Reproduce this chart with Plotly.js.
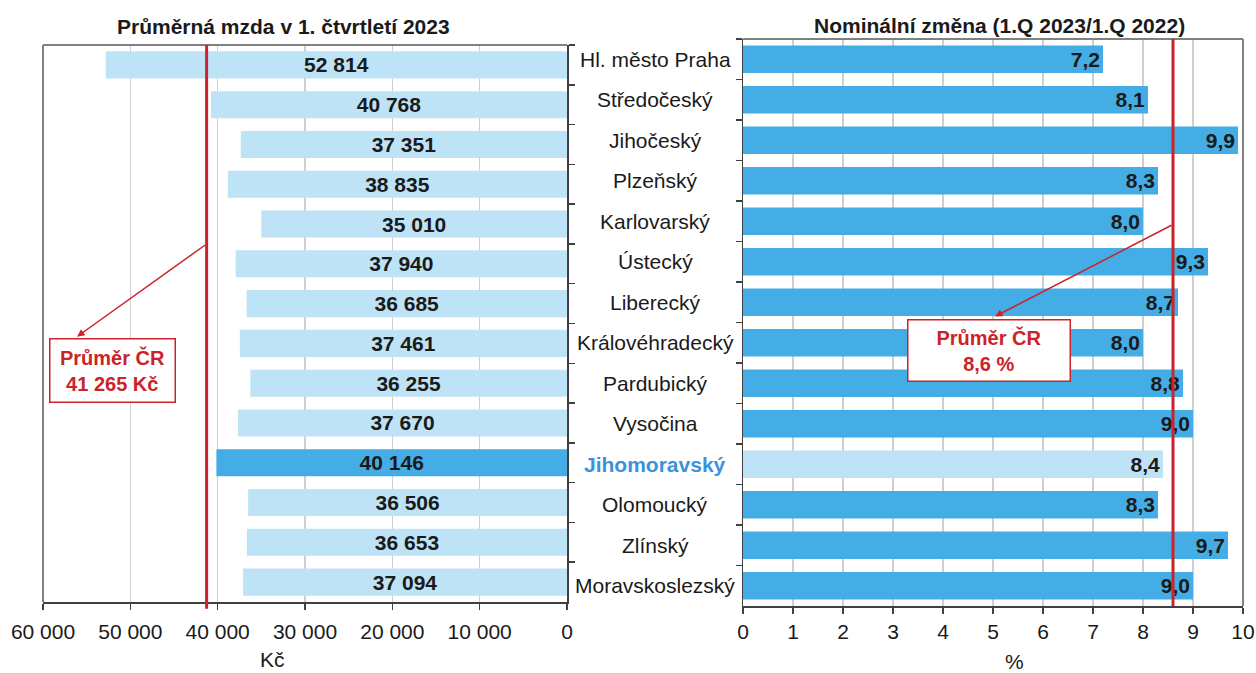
<!DOCTYPE html>
<html>
<head>
<meta charset="utf-8">
<script src="https://cdn.plot.ly/plotly-3.0.1.min.js"></script>
<style>
html,body{margin:0;padding:0;background:#fff;}
#chart{width:1256px;height:673px;}
</style>
</head>
<body>
<div id="chart"></div>
<script>
// ---- data ----
const categories = ['Hl. město Praha','Středočeský','Jihočeský','Plzeňský','Karlovarský','Ústecký','Liberecký','Královéhradecký','Pardubický','Vysočina','Jihomoravský','Olomoucký','Zlínský','Moravskoslezský'];
const wages = [52814,40768,37351,38835,35010,37940,36685,37461,36255,37670,40146,36506,36653,37094];
const changes = [7.2,8.1,9.9,8.3,8.0,9.3,8.7,8.0,8.8,9.0,8.4,8.3,9.7,9.0];
const avgWage = 41265;
const avgChange = 8.6;
const highlight = 'Jihomoravský';
const leftTitle = 'Průměrná mzda v 1. čtvrtletí 2023';
const rightTitle = 'Nominální změna (1.Q 2023/1.Q 2022)';
const leftAxisTitle = 'Kč';
const rightAxisTitle = '%';
const avgLabel = 'Průměr ČR';

// ---- style ----
const FONT = '"Liberation Sans", Arial, sans-serif';
const LIGHT = '#BEE3F6';
const DARK = '#45ADE5';
const RED = '#CC2229';
const TXT = '#1a1a1a';
const GRID = '#CFCFCF';
const BORDER = '#808080';
const AXIS = '#404040';

function fmtThousands(v){ return String(v).replace(/\B(?=(\d{3})+(?!\d))/g,' '); }
function fmtDec(v){ return v.toFixed(1).replace('.',','); }

const leftColors = categories.map(c => c === highlight ? DARK : LIGHT);
const rightColors = categories.map(c => c === highlight ? LIGHT : DARK);

const traces = [
  {
    type:'bar', orientation:'h', x:wages, y:categories, xaxis:'x', yaxis:'y',
    marker:{color:leftColors, line:{width:0}},
    text:wages.map(fmtThousands), textposition:'inside', insidetextanchor:'middle',
    constraintext:'none', cliponaxis:false,
    textfont:{family:FONT, size:21, color:TXT, weight:'bold'},
    hoverinfo:'skip', showlegend:false
  },
  {
    type:'bar', orientation:'h', x:changes, y:categories, xaxis:'x2', yaxis:'y2',
    marker:{color:rightColors, line:{width:0}},
    text:changes.map(fmtDec), textposition:'inside', insidetextanchor:'end',
    constraintext:'none', cliponaxis:false,
    textfont:{family:FONT, size:21, color:TXT, weight:'bold'},
    hoverinfo:'skip', showlegend:false
  }
];

const W = 1256, H = 673;
const px = x => x / W;
const py = y => (H - y) / H;

const tickFont = {family:FONT, size:21, color:TXT};

const layout = {
  width:W, height:H, autosize:false,
  margin:{l:0,r:0,t:0,b:0,pad:0},
  paper_bgcolor:'#fff', plot_bgcolor:'#fff',
  separators:', ',
  bargap:0.32,
  font:{family:FONT, size:21, color:TXT},
  xaxis:{
    domain:[px(43), px(567)], range:[60000,0], dtick:10000, tickformat:',d',
    showgrid:true, gridcolor:GRID, gridwidth:1.5, zeroline:false,
    showline:true, linecolor:AXIS, linewidth:1.5,
    ticks:'outside', ticklen:6, tickwidth:1.5, tickcolor:AXIS,
    tickfont:tickFont, ticklabelstandoff:4, ticklabeloverflow:'allow', anchor:'y', fixedrange:true
  },
  yaxis:{
    domain:[py(602), py(45)], type:'category', autorange:'reversed',
    side:'right', showticklabels:false, showgrid:false, zeroline:false,
    showline:true, linecolor:AXIS, linewidth:1.5,
    ticks:'outside', tickson:'boundaries', ticklen:6, tickwidth:1.5, tickcolor:AXIS,
    anchor:'x', fixedrange:true
  },
  xaxis2:{
    domain:[px(743), px(1243)], range:[0,10], dtick:1,
    showgrid:true, gridcolor:GRID, gridwidth:1.5, zeroline:false,
    showline:true, linecolor:AXIS, linewidth:1.5,
    ticks:'outside', ticklen:6, tickwidth:1.5, tickcolor:AXIS,
    tickfont:tickFont, ticklabelstandoff:0, ticklabeloverflow:'allow', anchor:'y2', fixedrange:true
  },
  yaxis2:{
    domain:[py(606), py(39)], type:'category', autorange:'reversed',
    side:'left', showticklabels:false, showgrid:false, zeroline:false,
    showline:true, linecolor:AXIS, linewidth:1.5,
    ticks:'outside', tickson:'boundaries', ticklen:6, tickwidth:1.5, tickcolor:AXIS,
    anchor:'x2', fixedrange:true
  },
  shapes:[
    {type:'line', xref:'x domain', yref:'y domain', x0:0, x1:1, y0:1, y1:1, line:{color:BORDER, width:2}},
    {type:'line', xref:'x domain', yref:'y domain', x0:0, x1:0, y0:0, y1:1, line:{color:BORDER, width:2}},
    {type:'line', xref:'x2 domain', yref:'y2 domain', x0:0, x1:1, y0:1, y1:1, line:{color:BORDER, width:2}},
    {type:'line', xref:'x2 domain', yref:'y2 domain', x0:1, x1:1, y0:0, y1:1, line:{color:BORDER, width:2}},
    {type:'line', xref:'x', yref:'y domain', x0:avgWage, x1:avgWage, y0:-0.012, y1:1, line:{color:RED, width:3}},
    {type:'line', xref:'x2', yref:'y2 domain', x0:avgChange, x1:avgChange, y0:0, y1:1, line:{color:RED, width:3}}
  ],
  annotations:[]
};

const ann = layout.annotations;
ann.push({xref:'paper', yref:'paper', x:px(283), y:py(27), xanchor:'center', yanchor:'middle', showarrow:false,
  text:leftTitle, font:{family:FONT, size:21, color:TXT, weight:'bold'}});
ann.push({xref:'paper', yref:'paper', x:px(999), y:py(26), xanchor:'center', yanchor:'middle', showarrow:false,
  text:rightTitle, font:{family:FONT, size:21, color:TXT, weight:'bold'}});
ann.push({xref:'paper', yref:'paper', x:px(272), y:py(659), xanchor:'center', yanchor:'middle', showarrow:false,
  text:leftAxisTitle, font:{family:FONT, size:21, color:TXT}});
ann.push({xref:'paper', yref:'paper', x:px(1014), y:py(661), xanchor:'center', yanchor:'middle', showarrow:false,
  text:rightAxisTitle, font:{family:FONT, size:21, color:TXT}});
categories.forEach(c => {
  const hl = c === highlight;
  ann.push({xref:'paper', yref:'y2', x:px(655), y:c, xanchor:'center', yanchor:'middle', showarrow:false,
    text:c, font:{family:FONT, size:21, color: hl ? '#3A93DA' : TXT, weight: hl ? 'bold' : 'normal'}});
});
ann.push({xref:'x', yref:'y', x:56100, y:6.83, axref:'x', ayref:'y', ax:avgWage, ay:4.5,
  text:'', showarrow:true, arrowhead:2, arrowsize:1, arrowwidth:1.5, arrowcolor:RED, standoff:0, startstandoff:0});
ann.push({xref:'x2', yref:'y2', x:5.04, y:6.35, axref:'x2', ayref:'y2', ax:avgChange, ay:4.08,
  text:'', showarrow:true, arrowhead:2, arrowsize:1, arrowwidth:1.5, arrowcolor:RED, standoff:0, startstandoff:0});
ann.push({xref:'paper', yref:'paper', x:px(113), y:py(370), xanchor:'center', yanchor:'middle', showarrow:false,
  text:avgLabel + '<br>' + fmtThousands(avgWage) + ' ' + leftAxisTitle,
  font:{family:FONT, size:20, color:RED, weight:'bold'}, bgcolor:'#fff', bordercolor:RED, borderwidth:1.5,
  width:120, height:58, borderpad:2, align:'center'});
ann.push({xref:'paper', yref:'paper', x:px(989), y:py(351), xanchor:'center', yanchor:'middle', showarrow:false,
  text:avgLabel + '<br>' + fmtDec(avgChange) + ' ' + rightAxisTitle,
  font:{family:FONT, size:20, color:RED, weight:'bold'}, bgcolor:'#fff', bordercolor:RED, borderwidth:1.5,
  width:157, height:56, borderpad:2, align:'center'});

Plotly.newPlot('chart', traces, layout, {displayModeBar:false, staticPlot:true});
</script>
</body>
</html>
